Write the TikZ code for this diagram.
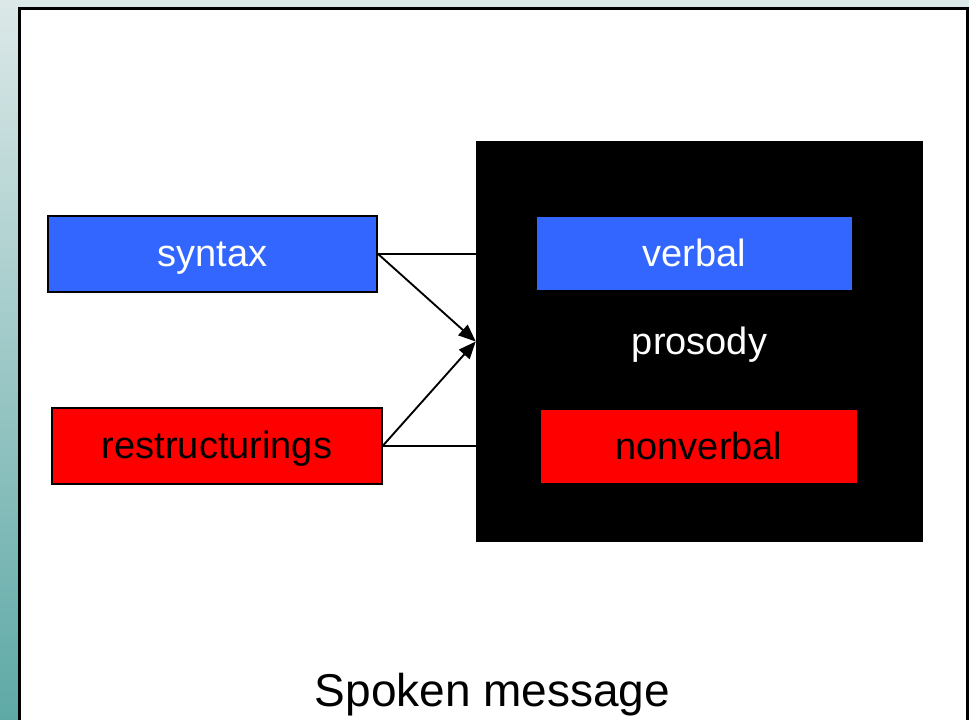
\documentclass[tikz,border=0pt]{standalone}
\usepackage{fontspec}
\setmainfont{Liberation Sans}
\usetikzlibrary{arrows.meta}
\definecolor{bgtop}{HTML}{DCE8E8}
\definecolor{bgbot}{HTML}{5EA9A6}
\definecolor{boxblue}{HTML}{3366FF}
\definecolor{boxred}{HTML}{FF0000}
\tikzset{
  lbl/.style={font=\fontsize{28.5pt}{34pt}\selectfont, text height=24.2pt, text depth=4.85pt, inner sep=0pt},
  leftbox/.style={lbl, draw=black, line width=1.4pt, minimum width=247pt, minimum height=57pt},
  innerbox/.style={lbl, minimum width=236.5pt, minimum height=54.75pt},
  conn/.style={line width=1.4pt, black},
  arr/.style={conn, -{Triangle[length=13pt,width=10.5pt]}}
}
\begin{document}
\begin{tikzpicture}[x=0.75pt,y=-0.75pt]
\useasboundingbox (0,0) rectangle (969,719);
\clip (0,0) rectangle (969,719);
\shade[top color=bgtop, bottom color=bgbot] (0,0) rectangle (969,719);
\draw[line width=1.6pt, fill=white] (19.5,8.5) rectangle (967.5,740);
% black prosody box
\node[lbl, fill=black, text=white, minimum width=335.25pt, minimum height=300.75pt] (prosody) at (699.5,341.5) {prosody};
\node[innerbox, fill=boxblue, text=white] (verbal) at (694.5,253.5) {verbal};
\node[innerbox, fill=boxred, text=black] (nonverbal) at (699,446.5) {nonverbal};
% left boxes
\node[leftbox, fill=boxblue, text=white] (syntax) at (212.5,254) {syntax};
\node[leftbox, fill=boxred, text=black] (restr) at (217,446) {restructurings};
% connectors
\draw[conn] (syntax.east) -- (prosody.west |- syntax.east);
\draw[conn] (restr.east) -- (prosody.west |- restr.east);
\draw[arr] (syntax.east) -- (prosody.west);
\draw[arr] (restr.east) -- (prosody.west);
% caption
\node[font=\fontsize{34.5pt}{40pt}\selectfont, anchor=base, inner sep=0pt] (caption) at (492.5,706.5) {Spoken message};
\end{tikzpicture}
\end{document}
